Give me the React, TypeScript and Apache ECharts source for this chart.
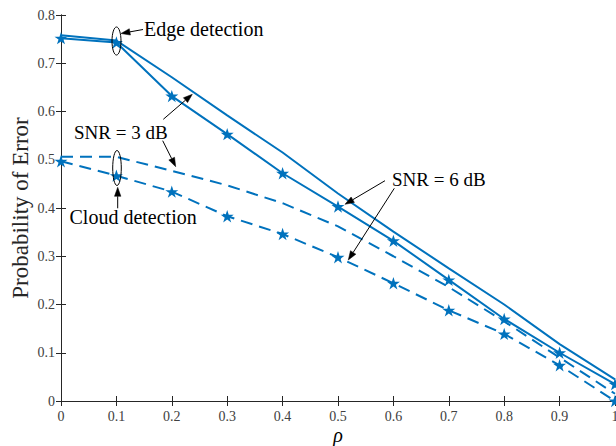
import React, { useEffect, useRef } from "react";
import * as echarts from "echarts";

// ---- data ----
const rho = [0, 0.1, 0.2, 0.3, 0.4, 0.5, 0.6, 0.7, 0.8, 0.9, 1.0];
const edgeSnr3 = [0.758, 0.747, 0.671, 0.592, 0.515, 0.43, 0.351, 0.275, 0.2, 0.118, 0.045];
const edgeSnr6 = [0.752, 0.743, 0.632, 0.553, 0.472, 0.403, 0.332, 0.251, 0.17, 0.1, 0.035];
const cloudSnr3 = [0.506, 0.506, 0.477, 0.447, 0.41, 0.362, 0.3, 0.236, 0.165, 0.09, 0.015];
const cloudSnr6 = [0.497, 0.467, 0.434, 0.383, 0.346, 0.298, 0.244, 0.188, 0.139, 0.074, 0.0];

const FONT = "Liberation Serif, Times New Roman, serif";
const BLUE = "#0072BD";
const AXIS = "#262626";
const STAR =
  "path://M0,-10L2.245,-3.09L9.511,-3.09L3.633,1.18L5.878,8.09L0,3.82L-5.878,8.09L-3.633,1.18L-9.511,-3.09L-2.245,-3.09Z";

function arrow(x1: number, y1: number, x2: number, y2: number) {
  const dx = x2 - x1;
  const dy = y2 - y1;
  const len = Math.sqrt(dx * dx + dy * dy);
  const ux = dx / len;
  const uy = dy / len;
  const L = 9;
  const W = 3.2;
  const bx = x2 - ux * L;
  const by = y2 - uy * L;
  const nx = -uy;
  const ny = ux;
  return [
    {
      type: "line",
      shape: { x1, y1, x2: bx, y2: by },
      style: { stroke: "#000", lineWidth: 1 },
      z: 100,
    },
    {
      type: "polygon",
      shape: {
        points: [
          [x2, y2],
          [bx + nx * W, by + ny * W],
          [bx - nx * W, by - ny * W],
        ],
      },
      style: { fill: "#000", stroke: "#000", lineWidth: 0.5 },
      z: 100,
    },
  ];
}

function label(text: string, x: number, y: number, size: number) {
  return {
    type: "text",
    x,
    y,
    z: 100,
    style: {
      text,
      fontSize: size,
      fontFamily: FONT,
      fill: "#000",
      align: "left",
      verticalAlign: "middle",
    },
  };
}

function ellipse(cx: number, cy: number, rx: number, ry: number) {
  return {
    type: "ellipse",
    z: 100,
    shape: { cx, cy, rx, ry },
    style: { fill: "none", stroke: "#000", lineWidth: 1 },
  };
}

const toData = (ys: number[]) => rho.map((x, i) => [x, ys[i]]);

export default function App() {
  const ref = useRef<HTMLDivElement>(null);
  useEffect(() => {
    document.body.style.margin = "0";
    const chart = echarts.init(ref.current!, undefined, { renderer: "svg" });
    const xCommon = {
      type: "value",
      min: 0,
      max: 1,
      interval: 0.1,
      axisLine: { show: true, lineStyle: { color: AXIS, width: 1 } },
      axisTick: { show: true, inside: true, length: 5, lineStyle: { color: AXIS } },
      splitLine: { show: false },
    };
    const yCommon = {
      type: "value",
      min: 0,
      max: 0.8,
      interval: 0.1,
      axisLine: { show: true, lineStyle: { color: AXIS, width: 1 } },
      axisTick: { show: true, inside: true, length: 5, lineStyle: { color: AXIS } },
      splitLine: { show: false },
    };
    const lineSeries = (
      name: string,
      ys: number[],
      dashed: boolean,
      marker: boolean
    ) => ({
      name,
      type: "line",
      data: toData(ys),
      showSymbol: marker,
      symbol: marker ? STAR : "none",
      symbolSize: 13,
      symbolKeepAspect: true,
      itemStyle: { color: BLUE },
      lineStyle: {
        color: BLUE,
        width: 2,
        type: dashed ? [12, 7] : "solid",
      },
      clip: false,
      z: marker ? 3 : 2,
    });
    chart.setOption({
      animation: false,
      backgroundColor: "#fff",
      grid: {
        left: 61,
        right: 1,
        top: 15,
        bottom: 45,
        containLabel: false,
        outerBoundsMode: "none",
      },
      xAxis: [
        {
          ...xCommon,
          position: "bottom",
          name: "ρ",
          nameLocation: "middle",
          nameGap: 24,
          nameMoveOverlap: false,
          nameTextStyle: {
            fontFamily: FONT,
            fontSize: 20,
            fontStyle: "italic",
            color: "#000",
          },
          axisLabel: {
            show: true,
            margin: 8,
            fontFamily: FONT,
            fontSize: 14,
            color: "#404040",
          },
        },
        { ...xCommon, position: "top", axisLabel: { show: false } },
      ],
      yAxis: [
        {
          ...yCommon,
          position: "left",
          name: "Probability of Error",
          nameLocation: "middle",
          nameGap: 29,
          nameMoveOverlap: false,
          nameTextStyle: { fontFamily: FONT, fontSize: 23, color: "#262626" },
          axisLabel: {
            show: true,
            margin: 6,
            fontFamily: FONT,
            fontSize: 14,
            color: "#404040",
          },
        },
        { ...yCommon, position: "right", axisLabel: { show: false } },
      ],
      series: [
        lineSeries("Edge, SNR = 3 dB", edgeSnr3, false, false),
        lineSeries("Edge, SNR = 6 dB", edgeSnr6, false, true),
        lineSeries("Cloud, SNR = 3 dB", cloudSnr3, true, false),
        lineSeries("Cloud, SNR = 6 dB", cloudSnr6, true, true),
      ],
      graphic: [
        ellipse(116.5, 41, 4.5, 14),
        ellipse(117, 168, 4.3, 17.5),
        ...arrow(143, 29.5, 121, 33.5),
        ...arrow(163.3, 119.3, 192.3, 94.3),
        ...arrow(162.7, 140.7, 175.7, 166.7),
        ...arrow(117.7, 208.3, 117.7, 187.3),
        ...arrow(385, 180.7, 345, 204.3),
        ...arrow(394.3, 188.3, 348.3, 260),
        label("Edge detection", 144, 29, 20),
        label("SNR = 3 dB", 74, 132.5, 19),
        label("SNR = 6 dB", 392, 179.3, 19),
        label("Cloud detection", 69.5, 217, 20),
      ],
    });
    return () => chart.dispose();
  }, []);
  return (
    <div
      ref={ref}
      style={{ position: "absolute", left: 0, top: 0, width: 616, height: 446 }}
    />
  );
}
